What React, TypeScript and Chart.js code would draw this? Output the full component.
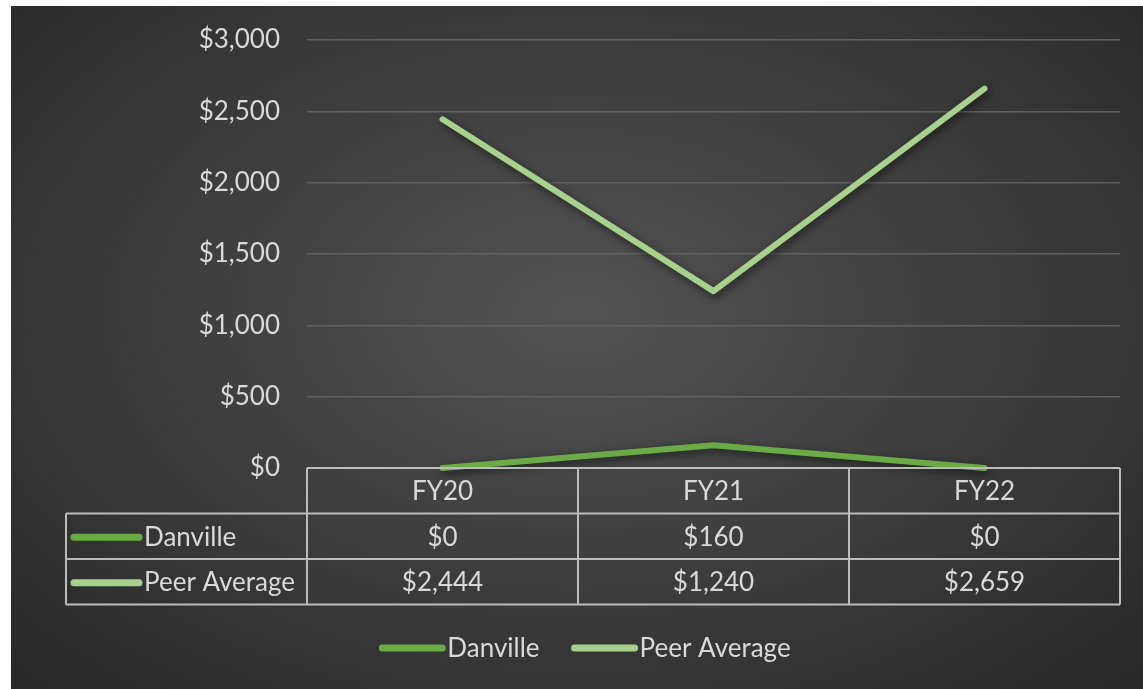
import React, { useEffect, useRef } from "react";
import { Chart, registerables } from "chart.js";

Chart.register(...registerables);

const categories = ["FY20", "FY21", "FY22"];
const danville = [0, 160, 0];
const peerAverage = [2444, 1240, 2659];
const seriesNames = ["Danville", "Peer Average"];
const seriesColors = ["#6aab45", "#a9d18e"];
const yTicks = [0, 500, 1000, 1500, 2000, 2500, 3000];

const W = 1132;
const H = 683;
const FONT = "Lato, 'Noto Sans', sans-serif";
const FS = 26;
const TEXT = "#d9d9d9";
const BORDER = "#bcbcbc";

const fmt = (v: number) => "$" + v.toLocaleString("en-US");

export default function App() {
  const ref = useRef<HTMLCanvasElement | null>(null);

  useEffect(() => {
    if (!ref.current) return;
    const shadowPlugin = {
      id: "lineShadow",
      beforeDatasetDraw(chart: any) {
        const ctx = chart.ctx;
        ctx.save();
        ctx.shadowColor = "rgba(0,0,0,0.6)";
        ctx.shadowBlur = 8;
        ctx.shadowOffsetX = 2;
        ctx.shadowOffsetY = 3;
      },
      afterDatasetDraw(chart: any) {
        chart.ctx.restore();
      },
    };
    const tablePlugin = {
      id: "dataTable",
      afterDraw(chart: any) {
        const ctx = chart.ctx;
        const area = chart.chartArea;
        const x = chart.scales.x;
        const n = categories.length;
        const colW = (area.right - area.left) / n;
        const rowH = 45.5;
        const top = area.bottom;
        const tableLeft = 55;
        ctx.save();
        ctx.strokeStyle = BORDER;
        ctx.lineWidth = 2;
        ctx.beginPath();
        ctx.moveTo(area.left, top);
        ctx.lineTo(area.right, top);
        ctx.moveTo(tableLeft, top + rowH);
        ctx.lineTo(area.right, top + rowH);
        ctx.moveTo(tableLeft, top + rowH * 2);
        ctx.lineTo(area.right, top + rowH * 2);
        ctx.moveTo(tableLeft, top + rowH * 3);
        ctx.lineTo(area.right, top + rowH * 3);
        for (let k = 0; k <= n; k++) {
          const bx = area.left + k * colW;
          ctx.moveTo(bx, top);
          ctx.lineTo(bx, top + rowH * 3);
        }
        ctx.moveTo(tableLeft, top + rowH);
        ctx.lineTo(tableLeft, top + rowH * 3);
        ctx.stroke();

        ctx.fillStyle = TEXT;
        ctx.font = `${FS}px ${FONT}`;
        ctx.textAlign = "center";
        ctx.textBaseline = "middle";
        categories.forEach((c, i) => {
          ctx.fillText(c, x.getPixelForValue(i), top + rowH / 2 + 1);
        });
        const rows = [danville, peerAverage];
        rows.forEach((vals, r) => {
          const cy = top + rowH * (r + 1) + rowH / 2 + 1;
          vals.forEach((v, i) => {
            ctx.textAlign = "center";
            ctx.fillStyle = TEXT;
            ctx.fillText(fmt(v), x.getPixelForValue(i), cy);
          });
          ctx.strokeStyle = seriesColors[r];
          ctx.lineWidth = 7;
          ctx.lineCap = "round";
          ctx.beginPath();
          ctx.moveTo(63, cy);
          ctx.lineTo(128, cy);
          ctx.stroke();
          ctx.textAlign = "left";
          ctx.fillText(seriesNames[r], 133, cy);
        });

        // legend
        const ly = 642;
        const keyW = 66;
        const gap = 2;
        const itemGap = 32;
        const widths = seriesNames.map((s) => keyW + gap + ctx.measureText(s).width);
        const total = widths.reduce((a, b) => a + b, 0) + itemGap * (widths.length - 1);
        let lx = W / 2 - total / 2 + 8;
        seriesNames.forEach((s, i) => {
          ctx.strokeStyle = seriesColors[i];
          ctx.lineWidth = 7;
          ctx.lineCap = "round";
          ctx.beginPath();
          ctx.moveTo(lx + 3, ly);
          ctx.lineTo(lx + keyW - 3, ly);
          ctx.stroke();
          ctx.textAlign = "left";
          ctx.fillStyle = TEXT;
          ctx.fillText(s, lx + keyW + gap, ly + 1);
          lx += widths[i] + itemGap;
        });
        ctx.restore();
      },
    };

    const chart = new Chart(ref.current, {
      type: "line",
      data: {
        labels: categories,
        datasets: [
          {
            label: seriesNames[0],
            data: danville,
            borderColor: seriesColors[0],
            backgroundColor: seriesColors[0],
            borderWidth: 6,
            pointRadius: 0,
            borderCapStyle: "round",
            borderJoinStyle: "round",
            clip: false as any,
          },
          {
            label: seriesNames[1],
            data: peerAverage,
            borderColor: seriesColors[1],
            backgroundColor: seriesColors[1],
            borderWidth: 6,
            pointRadius: 0,
            borderCapStyle: "round",
            borderJoinStyle: "round",
            clip: false as any,
          },
        ],
      },
      options: {
        responsive: false,
        animation: false,
        layout: { padding: { left: 0, top: 34, right: 23, bottom: 221 } },
        plugins: {
          legend: { display: false },
          tooltip: { enabled: false },
        },
        scales: {
          x: {
            type: "category",
            display: false,
            offset: true,
            grid: { display: false },
          },
          y: {
            min: 0,
            max: 3000,
            afterBuildTicks(scale: any) {
              scale.ticks = yTicks.map((v) => ({ value: v }));
            },
            afterFit(scale: any) {
              scale.width = 296;
              scale.paddingTop = 16;
              scale.paddingBottom = 16;
            },
            border: { display: false },
            grid: {
              color: "#606060",
              lineWidth: 1.5,
              drawTicks: false,
            },
            ticks: {
              padding: 27,
              color: TEXT,
              font: { family: FONT, size: FS },
              callback: (v: any) => fmt(Number(v)),
            },
          },
        },
      },
      plugins: [shadowPlugin, tablePlugin],
    });
    return () => chart.destroy();
  }, []);

  return (
    <div
      style={{
        position: "absolute",
        left: 11,
        top: 6,
        width: W,
        height: H,
        background:
          "radial-gradient(ellipse 75% 80% at 50% 45%, #535353 0%, #3a3a3a 55%, #262626 100%)",
      }}
    >
      <canvas ref={ref} width={W} height={H} style={{ display: "block", width: W, height: H }} />
    </div>
  );
}
